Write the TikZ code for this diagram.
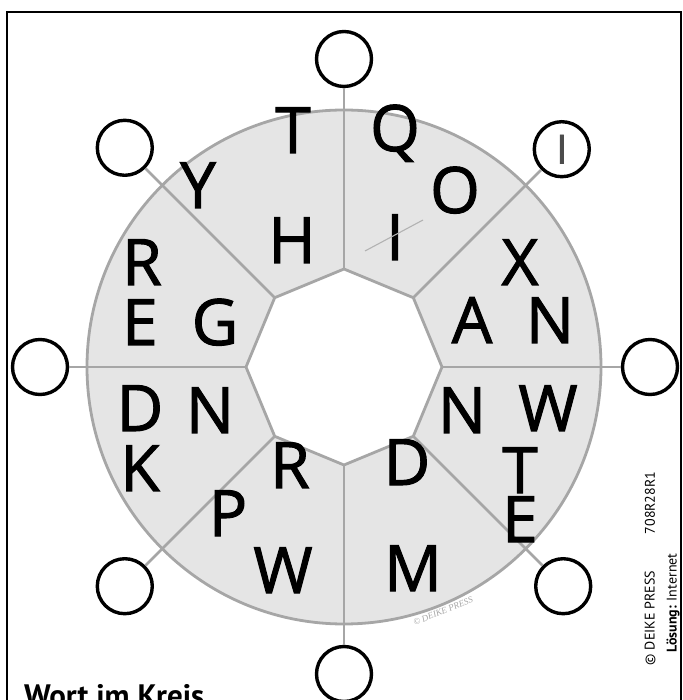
\documentclass[tikz,border=0pt]{standalone}
\usepackage{fontspec}
\setmainfont{PT Sans}
\newfontfamily\ringfont[FakeBold=1.6]{Open Sans}
\newfontfamily\stampfont{Liberation Serif}
\usetikzlibrary{positioning}

\begin{document}
\begin{tikzpicture}[
    x=1pt, y=1pt,
    letter/.style={
        inner sep=0pt,
        text height=46pt,
        text depth=0pt,
        font=\ringfont\fontsize{64}{64}\selectfont
    },
    answer/.style={
        circle,
        draw=black,
        fill=white,
        line width=3.4pt,
        minimum size=55pt,
        inner sep=0pt
    },
    spoke/.style={draw=gray!70, line width=2.6pt},
    side/.style={inner sep=0pt, rotate=90, font=\fontsize{14}{14}\selectfont}
]
\clip (-344,-333) rectangle (338,367);
\useasboundingbox (-344,-333) rectangle (338,367);

% frame
\draw[line width=1.4pt] (-337,-340) -- (-337,355) -- (337,355) -- (337,-340);

% ring and inner octagon
\fill[gray!20] (0,0) circle (257);
\draw[gray!70, line width=2.8pt, fill=white]
    (0:98) -- (45:98) -- (90:98) -- (135:98) -- (180:98)
    -- (225:98) -- (270:98) -- (315:98) -- cycle;
\draw[gray!70, line width=2.8pt] (0,0) circle (257);

\coordinate (v1) at (90:98);
\coordinate (v2) at (45:98);
\coordinate (v3) at (0:98);
\coordinate (v4) at (-45:98);
\coordinate (v5) at (-90:98);
\coordinate (v6) at (-135:98);
\coordinate (v7) at (180:98);
\coordinate (v8) at (135:98);

% answer circles
\node[answer] (c1) at (90:308) {};
\node[answer] (c2) at (45:308) {};
\node[answer] (c3) at (0:306) {};
\node[answer] (c4) at (-45:310) {};
\node[answer] (c5) at (-90:307) {};
\node[answer] (c6) at (-135:310) {};
\node[answer] (c7) at (180:304) {};
\node[answer] (c8) at (135:310) {};

\draw[spoke] (v1) -- (c1);
\draw[spoke] (v2) -- (c2);
\draw[spoke] (v3) -- (c3);
\draw[spoke] (v4) -- (c4);
\draw[spoke] (v5) -- (c5);
\draw[spoke] (v6) -- (c6);
\draw[spoke] (v7) -- (c7);
\draw[spoke] (v8) -- (c8);

\node[text=gray!60!black, font=\ringfont\fontsize{40}{40}\selectfont] (pencil) at (c2) {I};

% letters
\node[letter] (s1a) at (-51,237) {T};
\node[letter] (s1b) at (-146,182) {Y};
\node[letter] (s1c) at (-52,127) {H};
\node[letter] (s2a) at (51,239) {Q};
\node[letter] (s2b) at (111,177) {O};
\node[letter] (s2c) at (51,130) {I};
\node[letter] (s3a) at (176,105) {X};
\node[letter] (s3b) at (128,47) {A};
\node[letter] (s3c) at (206,47) {N};
\node[letter] (s4a) at (118,-43) {N};
\node[letter] (s4b) at (204,-41) {W};
\node[letter] (s4c) at (176,-103) {T};
\node[letter] (s5a) at (63,-95) {D};
\node[letter] (s5b) at (176,-152) {E};
\node[letter] (s5c) at (69,-201) {M};
\node[letter] (s6a) at (-54,-98) {R};
\node[letter] (s6b) at (-116,-146) {P};
\node[letter] (s6c) at (-61,-203) {W};
\node[letter] (s7a) at (-204,-41) {D};
\node[letter] (s7b) at (-134,-43) {N};
\node[letter] (s7c) at (-204,-101) {K};
\node[letter] (s8a) at (-202,105) {R};
\node[letter] (s8b) at (-204,45) {E};
\node[letter] (s8c) at (-129,45) {G};

\draw[gray!60, line width=1.1pt] ([shift={(-30,-14)}]s2c.center) -- ([shift={(28,17)}]s2c.center);

\node[rotate=22, text=gray!70, inner sep=0pt, font=\stampfont\itshape\fontsize{9}{9}\selectfont]
    (stamp) at (99,-244) {\textcopyright{} DEIKE PRESS};

% side texts
\node[side] (code) at (306,-136) {708R28R1};
\node[side] (press) at (306,-251) {\textcopyright{} DEIKE PRESS};
\node[side] (solution) at (329,-236) {\textbf{Lösung:} Internet};

\node[anchor=north west, inner sep=0pt, font=\bfseries\fontsize{31}{31}\selectfont]
    (title) at (-320,-317) {Wort im Kreis};

\end{tikzpicture}
\end{document}
